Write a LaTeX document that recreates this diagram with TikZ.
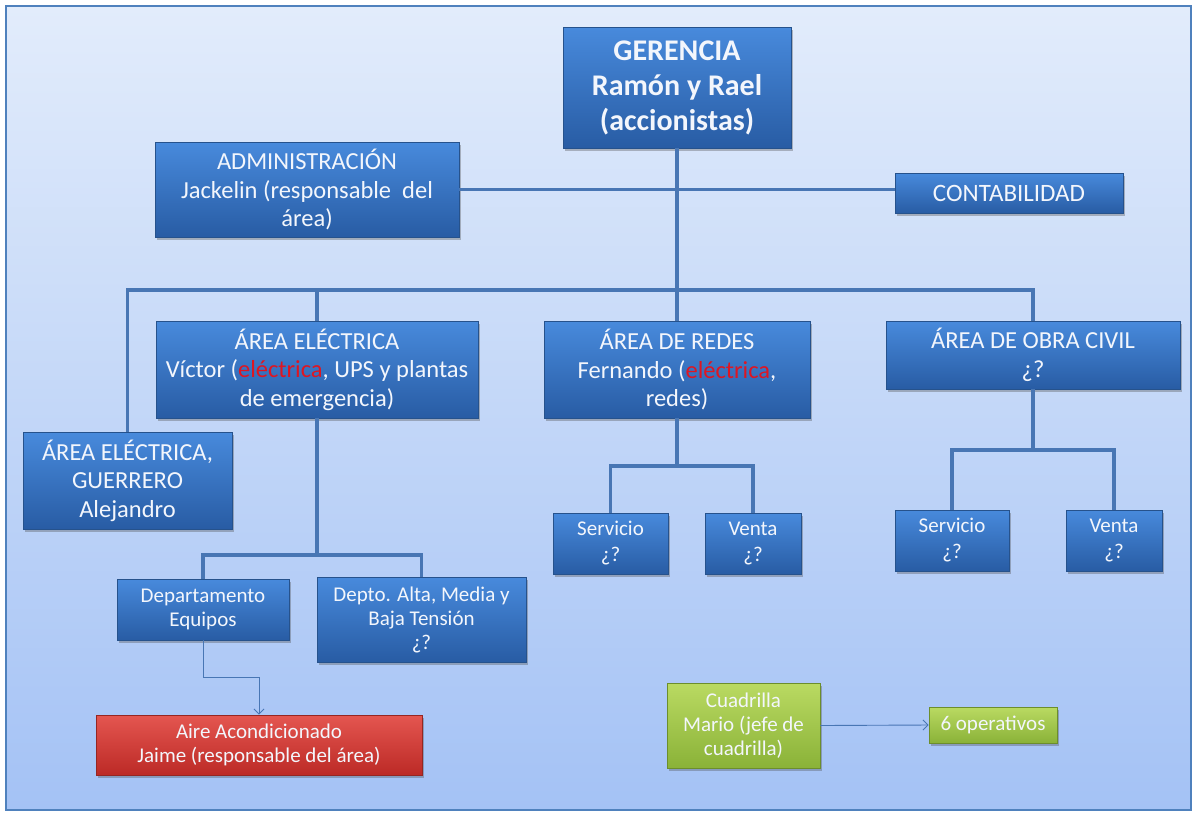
\documentclass[tikz,border=0pt]{standalone}
\usepackage{fontspec}
\setmainfont{Carlito}
\usetikzlibrary{shadows,arrows.meta}
\definecolor{bxtop}{RGB}{72,138,220}
\definecolor{bxbot}{RGB}{40,92,164}
\definecolor{bxline}{RGB}{38,82,140}
\definecolor{rdtop}{RGB}{228,86,80}
\definecolor{rdbot}{RGB}{188,42,38}
\definecolor{rdline}{RGB}{150,38,34}
\definecolor{grtop}{RGB}{186,218,98}
\definecolor{grbot}{RGB}{138,178,56}
\definecolor{grline}{RGB}{108,142,44}
\definecolor{conncol}{RGB}{72,118,180}
\definecolor{bgtop}{RGB}{226,236,251}
\definecolor{bgbot}{RGB}{164,194,245}
\definecolor{framecol}{RGB}{79,129,189}
\definecolor{ered}{RGB}{222,22,34}
\definecolor{txt}{RGB}{243,246,252}
\tikzset{
  box/.style={rectangle, inner sep=2pt, draw=bxline, line width=0.8pt,
    top color=bxtop, bottom color=bxbot, text=txt, align=center,
    drop shadow={shadow xshift=2pt, shadow yshift=-2.5pt, opacity=0.35, fill=black!70}},
  redbox/.style={box, draw=rdline, top color=rdtop, bottom color=rdbot},
  greenbox/.style={box, draw=grline, top color=grtop, bottom color=grbot},
  big/.style={font=\fontsize{24.5}{28.5}\selectfont},
  small/.style={font=\fontsize{21}{24}\selectfont},
  conn/.style={draw=conncol, line width=3.5pt, line join=miter},
  arr/.style={draw=conncol, line width=0.9pt, -{Straight Barb[length=5pt,width=10pt]}},
}
\begin{document}
\begin{tikzpicture}[x=1pt,y=-1pt]
\useasboundingbox (0,0) rectangle (1193,812);
\fill[white] (0,0) rectangle (1193,812);
\path[draw=framecol, line width=1.5pt, top color=bgtop, bottom color=bgbot] (6,6) rectangle (1191,810);

% nodes
\node[box, minimum width=228pt, minimum height=121pt, font=\bfseries\fontsize{30}{35}\selectfont] (ger) at (677,87.5) {GERENCIA\\Ramón y Rael\\(accionistas)};
\node[box, big, minimum width=304pt, minimum height=95pt] (adm) at (307,189.5) {ADMINISTRACIÓN\\Jackelin (responsable \ del\\área)};
\node[box, minimum width=228pt, minimum height=40pt, font=\fontsize{25}{28}\selectfont] (cont) at (1009,193) {CONTABILIDAD};
\node[box, big, minimum width=322pt, minimum height=97pt] (elec) at (317,369.5) {ÁREA ELÉCTRICA\\Víctor (\textcolor{ered}{eléctrica}, UPS y plantas\\de emergencia)};
\node[box, big, minimum width=266pt, minimum height=97pt] (redes) at (677,369.5) {ÁREA DE REDES\\Fernando (\textcolor{ered}{eléctrica},\\redes)};
\node[box, big, minimum width=294pt, minimum height=68pt] (obra) at (1033,355) {ÁREA DE OBRA CIVIL\\¿?};
\node[box, big, minimum width=209pt, minimum height=97pt] (guer) at (127.5,480.5) {ÁREA ELÉCTRICA,\\GUERRERO\\Alejandro};
\node[box, small, minimum width=115pt, minimum height=61pt, font=\fontsize{21}{26}\selectfont] (rserv) at (610.5,543.5) {Servicio\\¿?};
\node[box, small, minimum width=96pt, minimum height=61pt, font=\fontsize{21}{26}\selectfont] (rvent) at (753,543.5) {Venta\\¿?};
\node[box, small, minimum width=114pt, minimum height=61pt, font=\fontsize{21}{26}\selectfont] (oserv) at (952,540.5) {Servicio\\¿?};
\node[box, small, minimum width=96pt, minimum height=61pt, font=\fontsize{21}{26}\selectfont] (ovent) at (1114,540.5) {Venta\\¿?};
\node[box, small, minimum width=172pt, minimum height=61pt] (dep) at (203,609.5) {Departamento\\Equipos};
\node[box, small, minimum width=209pt, minimum height=85pt] (alta) at (421.5,619.5) {Depto. Alta, Media y\\Baja Tensión\\¿?};
\node[redbox, small, minimum width=326pt, minimum height=60pt] (aire) at (259,745) {Aire Acondicionado\\Jaime (responsable del área)};
\node[greenbox, small, minimum width=153pt, minimum height=85pt] (cuad) at (743.5,725.5) {Cuadrilla\\Mario (jefe de\\cuadrilla)};
\node[greenbox, small, minimum width=128pt, minimum height=36pt] (ope) at (993,725) {6 operativos};

% junction coordinates
\coordinate (b0) at (677,290);
\coordinate (e0) at (317,555);
\coordinate (r0) at (677,466);
\coordinate (o0) at (1033,450);

% connectors
\draw[conn] (ger.south) -- (b0);
\draw[conn] (adm.east) -- (cont.west |- adm.east);
\draw[conn] (guer.north) -- (guer.north |- b0) -- (obra.north |- b0) -- (obra.north);
\draw[conn] (elec.north) -- (elec.north |- b0);
\draw[conn] (redes.north) -- (b0);
\draw[conn] (elec.south) -- (e0);
\draw[conn] (dep.north) -- (dep.north |- e0) -- (alta.north |- e0) -- (alta.north);
\draw[conn] (redes.south) -- (r0);
\draw[conn] (rserv.north) |- (r0) -| (rvent.north);
\draw[conn] (obra.south) -- (o0);
\draw[conn] (oserv.north) |- (o0) -| (ovent.north);
\draw[arr] (dep.south) -- ++(0,37) -| (aire.north);
\draw[arr] (cuad.east) -- (ope.west);
\end{tikzpicture}
\end{document}
